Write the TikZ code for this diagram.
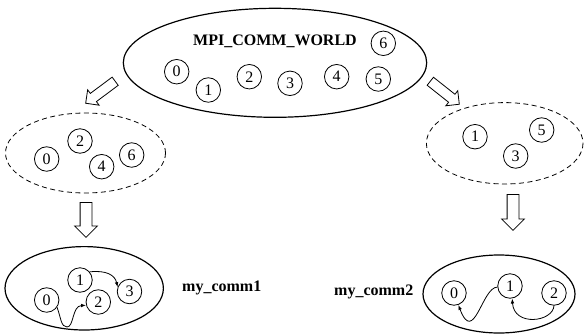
\documentclass[tikz,border=0pt]{standalone}
\usepackage{fontspec}
\setmainfont{Liberation Serif}
\usetikzlibrary{shapes.arrows,arrows.meta}

\tikzset{
  proc/.style={circle, draw, line width=0.8pt, minimum size=24.5pt, inner sep=0pt,
               font=\fontsize{16}{19}\selectfont},
  grouplabel/.style={font=\fontsize{16}{19}\selectfont\bfseries, inner sep=0pt},
  split/.style={draw, line width=0.8pt, dash pattern=on 5pt off 3.5pt},
  solidgroup/.style={draw, line width=1.2pt},
  % hollow block arrow: #1 = half shaft width, #2 = head overhang
  bigarrow/.style 2 args={single arrow, draw, line width=0.8pt, inner xsep=0pt,
                   inner ysep=#1, anchor=tail, single arrow head extend=#2},
  msg/.style={line width=0.8pt, -{Latex[length=5pt,width=3.6pt]}},
}

\begin{document}
\begin{tikzpicture}[x=1pt, y=-1pt]
\useasboundingbox (0,0) rectangle (584,335);

% ---- MPI_COMM_WORLD ----
\draw[solidgroup] (275,62.8) ellipse [x radius=151.7, y radius=54.5];
\node[grouplabel, anchor=base] (world) at (275,45) {MPI\_COMM\_WORLD};
\node[proc] (w0) at (176.7,71.7) {0};
\node[proc] (w1) at (208.3,90) {1};
\node[proc] (w2) at (249.3,76.7) {2};
\node[proc] (w3) at (290,83.3) {3};
\node[proc] (w4) at (336.7,76.7) {4};
\node[proc] (w5) at (378.3,79) {5};
\node[proc] (w6) at (383.3,43.3) {6};

% ---- split arrows ----
\node[bigarrow={4.7pt}{4.5pt}, minimum height=36.8pt, rotate=216.7]
  (splitL) at (115.5,81) {};
\node[bigarrow={4.7pt}{4.5pt}, minimum height=37pt, rotate=-38.4]
  (splitR) at (430,81) {};

% ---- even ranks ----
\draw[split] (85.5,153) ellipse [x radius=80, y radius=40];
\node[proc] (e0) at (46.7,159) {0};
\node[proc] (e2) at (80,141) {2};
\node[proc] (e4) at (101.7,166.7) {4};
\node[proc] (e6) at (131.7,155) {6};

% ---- odd ranks ----
\draw[split] (504.7,143.3) ellipse [x radius=78.3, y radius=40.7];
\node[proc] (o1) at (475,136.7) {1};
\node[proc] (o5) at (541.7,130) {5};
\node[proc] (o3) at (515.7,156) {3};

% ---- create arrows ----
\node[bigarrow={5.5pt}{5.5pt}, minimum height=35pt, rotate=-90]
  (makeL) at (86,202) {};
\node[bigarrow={5.5pt}{5.5pt}, minimum height=36pt, rotate=-90]
  (makeR) at (513,194) {};

% ---- my_comm1 ----
\draw[solidgroup] (84.2,288.3) ellipse [x radius=79.2, y radius=41.7];
\node[proc] (a1) at (80,280) {1};
\node[proc] (a0) at (46.7,300) {0};
\node[proc] (a2) at (98.3,302) {2};
\node[proc] (a3) at (129.5,291.5) {3};
\node[grouplabel, anchor=base west] (c1) at (182,291) {my\_comm1};
\draw[msg] (a1.40) .. controls (106,270) and (115,275) .. (a3.160);
\draw[msg] (a0.-35) .. controls (61,318) and (61,327) .. (67,327)
                    .. controls (74,327) and (72,306) .. (a2.195);

% ---- my_comm2 ----
\draw[solidgroup] (499,294) ellipse [x radius=76, y radius=39];
\node[proc] (b0) at (454,293) {0};
\node[proc] (b1) at (510,286) {1};
\node[proc] (b2) at (554,293) {2};
\node[grouplabel, anchor=base west] (c2) at (334,295) {my\_comm2};
\draw[msg] (b1.185) .. controls (482,287) and (474,346) .. (b0.-70);
\draw[msg] (b2.south) .. controls (553,322) and (514,327) .. (b1.-80);
\end{tikzpicture}
\end{document}
